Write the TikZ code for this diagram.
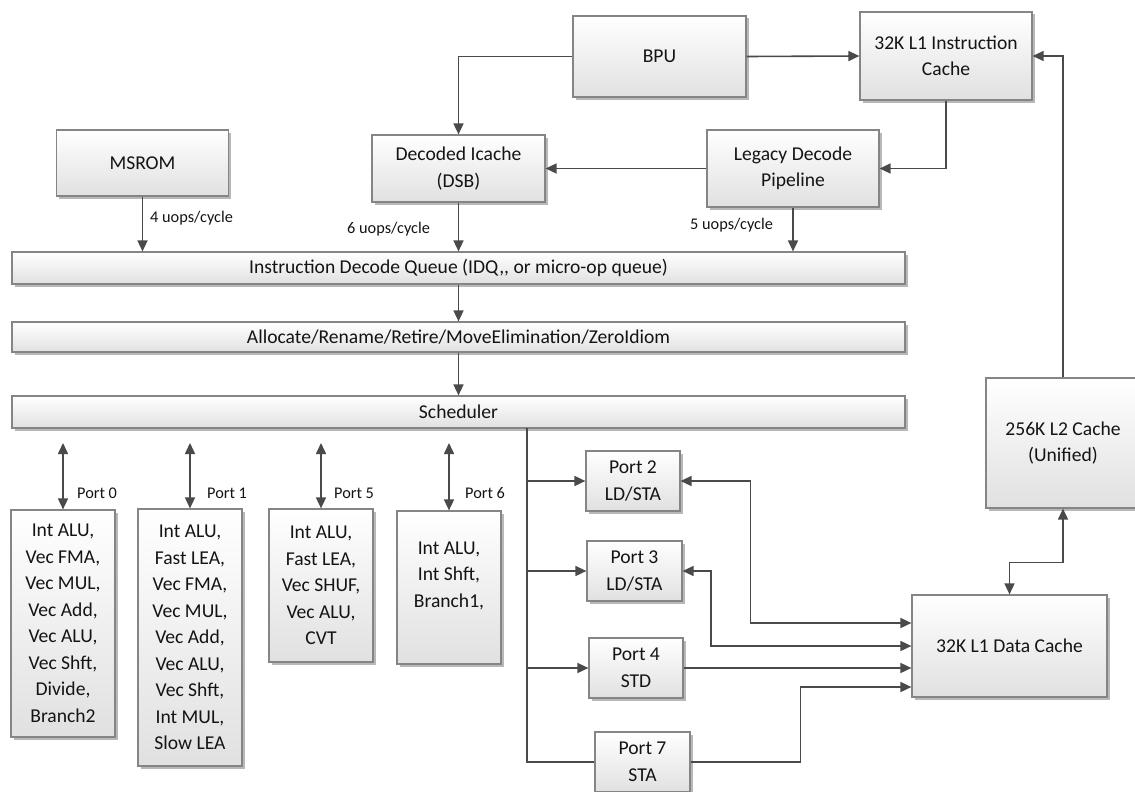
\documentclass[tikz,border=0pt]{standalone}
\usepackage{fontspec}
\setmainfont{Carlito}
\usetikzlibrary{arrows.meta,shadows}
\definecolor{ln}{HTML}{4A4A4A}
\definecolor{bd}{HTML}{858585}
\begin{document}
\begin{tikzpicture}[x=1pt,y=-1pt,
  blk/.style={draw=bd,line width=1.2pt,top color=white,bottom color=black!12,
    drop shadow={shadow xshift=2.5pt,shadow yshift=-2.5pt,fill=black!28,opacity=1},
    inner sep=0pt,align=center,font=\fontsize{19.6}{26.5}\selectfont,text=black!92},
  lbl/.style={inner sep=0pt,font=\fontsize{16.3}{19}\selectfont,text=black!92},
  conn/.style={draw=ln,line width=1.6pt},
  arr/.style={conn,-{Triangle[length=11pt,width=10pt]}},
  darr/.style={conn,{Triangle[length=11pt,width=10pt]}-{Triangle[length=11pt,width=10pt]}}
]
\clip (0,0) rectangle (1135,792);
\fill[white] (0,0) rectangle (1135,792);

% front end
\node[blk,minimum width=173pt,minimum height=81pt] (bpu) at (659.5,56.5) {BPU};
\node[blk,minimum width=172pt,minimum height=88pt] (l1i) at (946,56) {32K L1 Instruction\\Cache};
\node[blk,minimum width=172pt,minimum height=66pt] (msrom) at (142.5,163) {MSROM};
\node[blk,minimum width=173pt,minimum height=67pt] (dsb) at (458.5,168.5) {Decoded Icache\\(DSB)};
\node[blk,minimum width=172pt,minimum height=77pt] (leg) at (793,168.5) {Legacy Decode\\Pipeline};

% bars
\node[blk,minimum width=893pt,minimum height=32pt] (idq) at (458.5,268) {Instruction Decode Queue (IDQ,{},{} or micro-op queue)};
\node[blk,minimum width=893pt,minimum height=30pt] (alloc) at (458.5,337) {Allocate/Rename/Retire/MoveElimination/ZeroIdiom};
\node[blk,minimum width=893pt,minimum height=32pt] (sched) at (458.5,412) {Scheduler};

% execution port boxes
\node[blk,minimum width=104pt,minimum height=227pt] (p0box) at (63,623.5) {Int ALU,\\Vec FMA,\\Vec MUL,\\Vec Add,\\Vec ALU,\\Vec Shft,\\Divide,\\Branch2};
\node[blk,minimum width=104pt,minimum height=257pt] (p1box) at (190,637.5) {Int ALU,\\Fast LEA,\\Vec FMA,\\Vec MUL,\\Vec Add,\\Vec ALU,\\Vec Shft,\\Int MUL,\\Slow LEA};
\node[blk,minimum width=104pt,minimum height=153pt] (p5box) at (321,585.5) {Int ALU,\\Fast LEA,\\Vec SHUF,\\Vec ALU,\\CVT};
\node[blk,minimum width=104pt,minimum height=153pt] (p6box) at (449,587.5) {Int ALU,\\Int Shft,\\Branch1,\\\mbox{}};

% memory ports
\node[blk,minimum width=94pt,minimum height=60pt] (port2) at (633,481) {Port 2\\LD/STA};
\node[blk,minimum width=95pt,minimum height=60pt] (port3) at (634.5,571) {Port 3\\LD/STA};
\node[blk,minimum width=94pt,minimum height=60pt] (port4) at (636,668) {Port 4\\STD};
\node[blk,minimum width=95pt,minimum height=60pt] (port7) at (642.5,762) {Port 7\\STA};

% caches
\node[blk,minimum width=195pt,minimum height=102pt] (l1d) at (1009.5,646) {32K L1 Data Cache};
\node[blk,minimum width=154pt,minimum height=130pt] (l2) at (1063,443) {256K L2 Cache\\(Unified)};

% front-end connectors
\draw[arr] (bpu.west) -| (dsb.north);
\draw[arr] (bpu.east) -- (l1i.west);
\draw[arr] (l1i.south) |- (leg.east);
\draw[arr] (leg.west) -- (dsb.east);
\draw[arr] (dsb.south) -- (dsb.south |- idq.north);
\draw[arr] (leg.south) -- (leg.south |- idq.north);
\draw[arr] (msrom.south) -- (msrom.south |- idq.north);
\draw[arr] (idq.south) -- (alloc.north);
\draw[arr] (alloc.south) -- (sched.north);

\node[lbl,anchor=west] (u4) at (150,218) {4 uops/cycle};
\node[lbl,anchor=west] (u6) at (347,229) {6 uops/cycle};
\node[lbl,anchor=west] (u5) at (690,225) {5 uops/cycle};

% scheduler ports 0 1 5 6
\coordinate (a0) at (63,443);
\coordinate (a1) at (190,443);
\coordinate (a5) at (321,443);
\coordinate (a6) at (449,443);
\draw[darr] (a0) -- (p0box.north);
\draw[darr] (a1) -- (p1box.north);
\draw[darr] (a5) -- (p5box.north);
\draw[darr] (a6) -- (p6box.north);
\node[lbl,anchor=west] (lp0) at (77,493) {Port 0};
\node[lbl,anchor=west] (lp1) at (207,493) {Port 1};
\node[lbl,anchor=west] (lp5) at (334,493) {Port 5};
\node[lbl,anchor=west] (lp6) at (465,493) {Port 6};

% trunk to memory ports
\coordinate (tr) at (527,428);
\draw[conn] (tr) |- (port7.west);
\draw[arr] (tr |- port2.west) -- (port2.west);
\draw[arr] (tr |- port3.west) -- (port3.west);
\draw[arr] (tr |- port4.west) -- (port4.west);

% memory ports to L1D
\draw[darr] (port2.east) -- ++(70,0) |- ([yshift=23pt]l1d.west);
\draw[darr] (port3.east) -- ++(28.5,0) |- (l1d.west);
\draw[arr] (port4.east) -- ([yshift=-22pt]l1d.west);
\draw[arr] (port7.east) -- ++(110,0) |- ([yshift=-41pt]l1d.west);

% caches
\draw[darr] (l2.south) -- ++(0,54) -| (l1d.north);
\draw[arr] (l2.north) |- (l1i.east);
\end{tikzpicture}
\end{document}
